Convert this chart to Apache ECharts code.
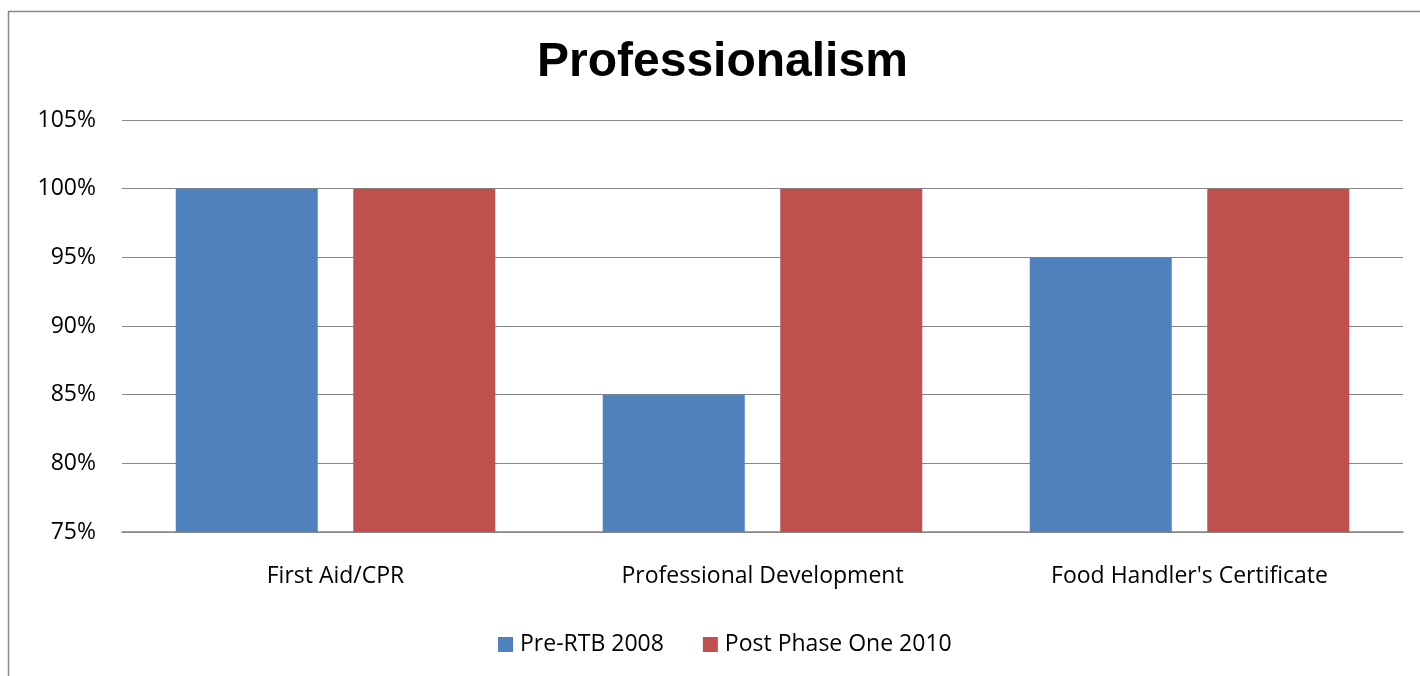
<!DOCTYPE html>
<html><head><meta charset="utf-8">
<script src="https://cdn.jsdelivr.net/npm/echarts@6/dist/echarts.min.js"></script>
<style>html,body{margin:0;padding:0;background:#fff}#c{width:1420px;height:676px}</style>
</head><body><div id="c"></div>
<script>
const categories = ["First Aid/CPR", "Professional Development", "Food Handler's Certificate"];
const preRTB2008 = [100, 85, 95];
const postPhaseOne2010 = [100, 100, 100];
const seriesNames = ["Pre-RTB 2008", "Post Phase One 2010"];
const titleText = "Professionalism";

const chart = echarts.init(document.getElementById('c'), null, {renderer: 'canvas'});
const font = "'Open Sans', 'Noto Sans', sans-serif";
chart.setOption({
  animation: false,
  backgroundColor: '#fff',
  graphic: [{
    type: 'rect', silent: true,
    shape: {x: 8.5, y: 11.5, width: 1500, height: 800},
    style: {fill: 'none', stroke: '#878787', lineWidth: 1.5}
  }],
  title: {
    text: titleText, left: 532, top: 34,
    textStyle: {fontFamily: "'Liberation Sans', Arial, sans-serif", fontWeight: 'bold', fontSize: 48, color: '#000'}
  },
  legend: {
    data: seriesNames, left: 493, top: 628, itemWidth: 15, itemHeight: 15, itemGap: 39,
    icon: 'rect',
    textStyle: {fontFamily: font, fontSize: 23, color: '#000', padding: [0,0,0,2]}
  },
  grid: {left: 122, right: 17, top: 120, bottom: 144, containLabel: false},
  xAxis: {
    type: 'category', data: categories,
    axisLine: {lineStyle: {color: '#868686', width: 1.5}},
    axisTick: {show: false},
    axisLabel: {margin: 33, fontFamily: font, fontSize: 23, color: '#000'}
  },
  yAxis: {
    type: 'value', min: 75, max: 105, interval: 5,
    axisLine: {show: false}, axisTick: {show: false},
    splitLine: {lineStyle: {color: '#868686', width: 1}},
    axisLabel: {margin: 26, formatter: v => v + '%', fontFamily: font, fontSize: 23, color: '#000'}
  },
  series: [
    {name: seriesNames[0], type: 'bar', data: preRTB2008, barWidth: 142, barGap: '25%', itemStyle: {color: '#4F81BD'}},
    {name: seriesNames[1], type: 'bar', data: postPhaseOne2010, barWidth: 142, itemStyle: {color: '#C0504D'}}
  ]
});
</script></body></html>
